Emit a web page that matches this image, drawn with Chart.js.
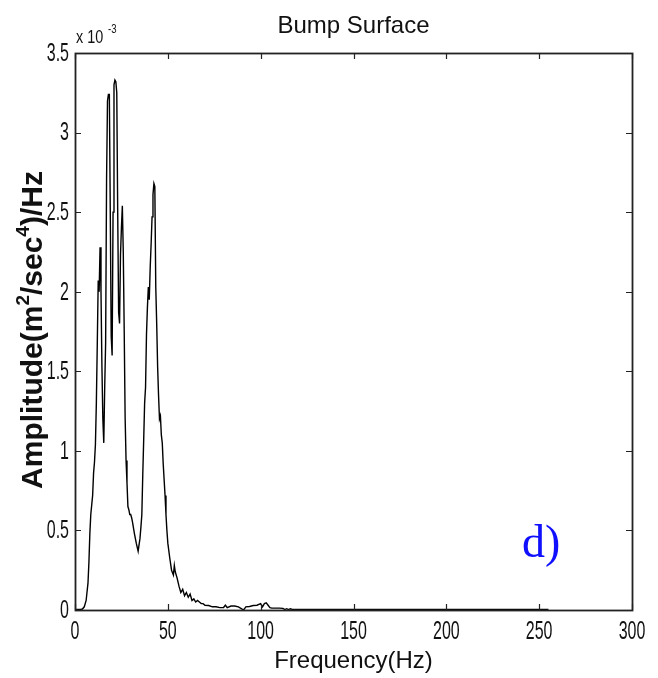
<!DOCTYPE html>
<html>
<head>
<meta charset="utf-8">
<title>Bump Surface</title>
<script src="https://cdn.jsdelivr.net/npm/chart.js@4/dist/chart.umd.min.js"></script>
<style>
    html, body { margin: 0; padding: 0; background: #fff; }
    #psd { display: block; }
</style>
</head>
<body>
<canvas id="psd" width="658" height="678"></canvas>
<script>
"use strict";

// PSD of the vertical acceleration, bump surface (amplitude in units of 1e-3)
const freqHz = [
    0, 1, 2, 3, 4, 5, 6, 7, 7.5, 8, 8.5, 9, 9.5, 10, 10.5, 11, 11.5, 12, 12.5, 13,
    13.5, 14, 14.5, 15, 15.5, 16, 16.5, 17, 17.5, 18, 18.5, 19, 19.5, 20, 20.5, 21,
    21.5, 22, 22.5, 23, 23.5, 24, 24.5, 25, 25.5, 26, 26.5, 27, 27.5, 28, 28.5, 29,
    29.5, 30, 30.5, 31, 32, 33, 34, 35, 35.5, 36, 36.5, 37, 37.5, 38, 38.5, 39,
    39.5, 40, 40.5, 41, 41.5, 42, 42.5, 43, 43.5, 44, 44.5, 45, 45.5, 46, 46.5, 47,
    47.5, 48, 48.5, 49, 49.5, 50, 51, 52, 53, 53.5, 54, 55, 56, 57, 58, 59,
    60, 61, 62, 63, 64, 65, 66, 67, 68, 69, 70, 72, 74, 76, 78, 80, 81, 82,
    84, 86, 88, 90, 91, 92, 94, 96, 98, 100, 101, 102, 103, 104, 105, 106, 108, 110,
    112, 113, 114, 115, 116, 117, 120, 130, 140, 150, 160, 170, 180, 190, 200, 210,
    220, 230, 240, 250, 255
];
const ampE3 = [
    0.003, 0.003, 0.003, 0.004, 0.006, 0.02, 0.06, 0.17, 0.3, 0.48, 0.6, 0.66, 0.72, 0.86, 0.93, 1.04, 1.3, 1.67, 2.07, 2.0,
    2.28, 2.0, 1.53, 1.2, 1.05, 1.4, 1.68, 2.7, 3.2, 3.24, 3.24, 2.5, 1.72, 1.6, 2.5, 3.3,
    3.33, 3.32, 3.25, 2.5, 1.87, 1.8, 2.23, 2.4, 2.54, 2.25, 1.76, 1.21, 0.94, 0.8, 0.65, 0.63,
    0.6, 0.6, 0.58, 0.55, 0.48, 0.42, 0.37, 0.45, 0.52, 0.6, 0.85, 1.07, 1.3, 1.4, 1.73, 1.9,
    2.03, 1.95, 2.15, 2.3, 2.47, 2.61, 2.68, 2.66, 2.03, 1.8, 1.53, 1.35, 1.2, 1.22, 1.1, 1.05,
    0.92, 0.82, 0.72, 0.6, 0.5, 0.42, 0.33, 0.25, 0.22, 0.28, 0.24, 0.2, 0.15, 0.11, 0.13, 0.09,
    0.11, 0.08, 0.1, 0.06, 0.07, 0.05, 0.06, 0.05, 0.04, 0.04, 0.03, 0.028, 0.02, 0.02, 0.015, 0.016, 0.03, 0.015,
    0.025, 0.025, 0.02, 0.005, 0.003, 0.02, 0.022, 0.028, 0.03, 0.04, 0.02, 0.04, 0.045, 0.03, 0.015, 0.012, 0.012, 0.012,
    0.01, 0.003, 0.008, 0.003, 0.008, 0.004, 0.004, 0.004, 0.004, 0.003, 0.004, 0.004, 0.003, 0.004, 0.004, 0.003,
    0.004, 0.004, 0.003, 0.004, 0.004
];

const xTicks = [0, 50, 100, 150, 200, 250, 300];
const yTicks = [0, 0.5, 1, 1.5, 2, 2.5, 3, 3.5];
const yTickText = ["0", "0.5", "1", "1.5", "2", "2.5", "3", "3.5"];

const titleText = "Bump Surface";
const xAxisText = "Frequency(Hz)";
const panelTag = "d)";

const SANS = "'Liberation Sans', Arial, Helvetica, sans-serif";
const SERIF = "'Liberation Serif', 'Times New Roman', serif";

function pts() {
    let out = [];
    for (let i = 0; i < freqHz.length; i++) out.push({ x: freqHz[i], y: ampE3[i] });
    return out;
}

// squeezed text, like the narrow axis font of the old plot
function narrowText(ctx, txt, x, y, sx, align) {
    ctx.save();
    ctx.translate(x, y);
    ctx.scale(sx, 1);
    ctx.textAlign = align;
    ctx.fillText(txt, 0, 0);
    ctx.restore();
}

const frame = {
    id: "frame",
    afterDraw(chart) {
        const ctx = chart.ctx;
        const a = chart.chartArea;
        const xs = chart.scales.x;
        const ys = chart.scales.y;
        const tl = 6;

        ctx.save();
        // box
        ctx.strokeStyle = "#222";
        ctx.lineWidth = 1.8;
        ctx.strokeRect(Math.round(a.left) + 0.5, Math.round(a.top) + 0.5, Math.round(a.right - a.left), Math.round(a.bottom - a.top));

        // inward ticks on all four sides
        ctx.lineWidth = 1.2;
        ctx.beginPath();
        xTicks.forEach(function(v) {
            let px = Math.round(xs.getPixelForValue(v)) + 0.5;
            ctx.moveTo(px, a.bottom); ctx.lineTo(px, a.bottom - tl);
            ctx.moveTo(px, a.top); ctx.lineTo(px, a.top + tl);
        });
        yTicks.forEach(function(v) {
            let py = Math.round(ys.getPixelForValue(v)) + 0.5;
            ctx.moveTo(a.left, py); ctx.lineTo(a.left + tl, py);
            ctx.moveTo(a.right, py); ctx.lineTo(a.right - tl, py);
        });
        ctx.stroke();

        // tick labels
        ctx.fillStyle = "#111";
        ctx.font = "25px " + SANS;
        ctx.textBaseline = "top";
        xTicks.forEach(function(v) {
            narrowText(ctx, String(v), xs.getPixelForValue(v), a.bottom + 10, 0.64, "center");
        });
        ctx.textBaseline = "middle";
        yTicks.forEach(function(v, i) {
            narrowText(ctx, yTickText[i], a.left - 6, ys.getPixelForValue(v) + 1, 0.64, "right");
        });

        // exponent over the y axis
        ctx.textBaseline = "alphabetic";
        ctx.font = "18px " + SANS;
        narrowText(ctx, "x 10", a.left + 1, a.top - 10, 0.8, "left");
        ctx.font = "12px " + SANS;
        narrowText(ctx, "-3", a.left + 33, a.top - 20, 0.8, "left");

        // title and x label
        ctx.font = "24px " + SANS;
        ctx.textAlign = "center";
        ctx.fillText(titleText, (a.left + a.right) / 2, 33);
        ctx.fillText(xAxisText, (a.left + a.right) / 2, 668);

        // y label, with superscripts
        const parts = [
            { t: "Amplitude(m", sup: false },
            { t: "2", sup: true },
            { t: "/sec", sup: false },
            { t: "4", sup: true },
            { t: ")/Hz", sup: false }
        ];
        const big = "bold 30px " + SANS;
        const small = "bold 19px " + SANS;
        let total = 0;
        parts.forEach(function(p) {
            ctx.font = p.sup ? small : big;
            p.w = ctx.measureText(p.t).width;
            total += p.w;
        });
        ctx.translate(42, 330);
        ctx.rotate(-Math.PI / 2);
        ctx.textAlign = "left";
        let cx = -total / 2;
        parts.forEach(function(p) {
            ctx.font = p.sup ? small : big;
            ctx.fillText(p.t, cx, p.sup ? -13 : 0);
            cx += p.w;
        });
        ctx.restore();

        // panel tag
        ctx.save();
        ctx.fillStyle = "#1010ff";
        ctx.font = "46px " + SERIF;
        ctx.textAlign = "left";
        ctx.textBaseline = "alphabetic";
        ctx.fillText(panelTag, 522, 557);
        ctx.restore();
    }
};

new Chart(document.getElementById("psd"), {
    type: "line",
    data: {
        datasets: [ {
            data: pts(),
            borderColor: "#000",
            borderWidth: 1.4,
            pointRadius: 0,
            tension: 0,
            fill: false
        } ]
    },
    options: {
        responsive: false,
        devicePixelRatio: 1,
        animation: false,
        events: [],
        layout: {
            padding: { top: 53, right: 26, left: 0, bottom: 0 }
        },
        plugins: {
            legend: { display: false },
            tooltip: { enabled: false }
        },
        scales: {
            x: {
                type: "linear",
                min: 0,
                max: 300,
                ticks: { display: false, stepSize: 50 },
                grid: { display: false },
                border: { display: false },
                afterFit: function(scale) { scale.height = 68; }
            },
            y: {
                min: 0,
                max: 3.5,
                ticks: { display: false, stepSize: 0.5 },
                grid: { display: false },
                border: { display: false },
                afterFit: function(scale) { scale.width = 75; }
            }
        }
    },
    plugins: [ frame ]
});
</script>
</body>
</html>
